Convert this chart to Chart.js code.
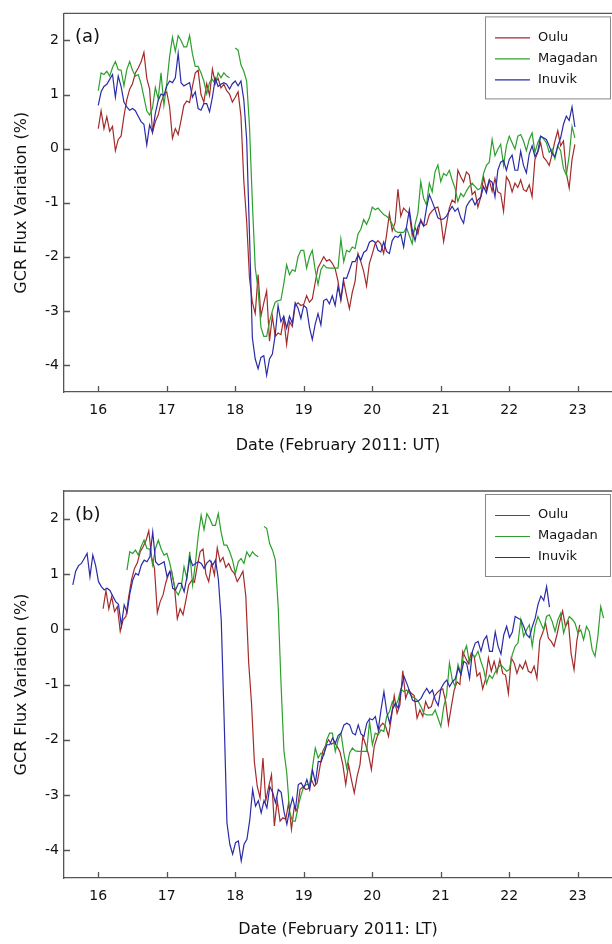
<!DOCTYPE html>
<html lang="en">
<head>
<meta charset="UTF-8" />
<title>GCR Flux Variation</title>
<script src="https://cdn.jsdelivr.net/npm/chart.js"></script>
<style>
    body { margin: 0; background: #fff; }
    canvas { display: block; }
</style>
</head>
<body>
<canvas id="chartUT" width="612" height="472"></canvas>
<canvas id="chartLT" width="612" height="472"></canvas>

<script>
    // hourly GCR flux variation (%), starting 16 Feb 2011 00:00 UT
    const startDay = 16;
    const stations = ['Oulu', 'Magadan', 'Inuvik'];
    const stationColors = ['#a52a2a', '#2ca02c', '#2b2ba8'];
    // local time offset of each station (hours), from its longitude
    const localOffsetHours = [1.70, 10.05, -8.91];

    const oulu = [
        0.37, 0.70, 0.37, 0.59, 0.32, 0.41, -0.04, 0.17, 0.23, 0.60,
        0.90, 1.10, 1.20, 1.40, 1.49, 1.60, 1.78, 1.30, 1.10, 0.30,
        0.50, 0.62, 0.85, 1.00, 1.05, 0.77, 0.19, 0.37, 0.26, 0.52,
        0.80, 0.88, 0.85, 1.15, 1.40, 1.45, 1.00, 0.86, 1.20, 0.98,
        1.47, 1.22, 1.30, 1.12, 1.19, 1.07, 1.01, 0.86, 0.95, 1.05,
        0.60, -0.60, -1.34, -2.40, -2.84, -3.05, -2.33, -3.10, -2.85, -2.63,
        -3.56, -3.10, -3.47, -3.41, -3.44, -3.14, -3.62, -3.20, -3.29, -2.90,
        -2.85, -2.90, -2.88, -2.72, -2.84, -2.78, -2.48, -2.20, -2.10, -2.00,
        -2.08, -2.05, -2.12, -2.22, -2.45, -2.81, -2.45, -2.72, -2.96, -2.66,
        -2.45, -1.94, -2.09, -2.27, -2.54, -2.12, -1.95, -1.76, -1.70, -1.76,
        -1.94, -1.60, -1.20, -1.52, -1.37, -0.75, -1.25, -1.10, -1.16, -1.20,
        -1.61, -1.46, -1.58, -1.31, -1.43, -1.40, -1.22, -1.15, -1.10, -1.08,
        -1.30, -1.72, -1.40, -1.10, -0.95, -1.00, -0.40, -0.52, -0.62, -0.43,
        -0.49, -0.85, -0.79, -1.08, -0.90, -0.52, -0.76, -0.58, -0.79, -0.55,
        -0.80, -0.83, -1.16, -0.52, -0.61, -0.80, -0.64, -0.72, -0.58, -0.76,
        -0.79, -0.67, -0.89, -0.20, -0.07, 0.11, -0.16, -0.22, -0.31, -0.10,
        0.14, 0.33, 0.05, 0.14, -0.45, -0.73, -0.20, 0.08
    ];

    const magadan = [
        1.07, 1.40, 1.37, 1.43, 1.34, 1.50, 1.61, 1.46, 1.45, 1.16,
        1.46, 1.61, 1.45, 1.34, 1.37, 1.20, 0.95, 0.70, 0.62, 0.75,
        1.13, 0.92, 1.40, 0.80, 1.20, 1.70, 2.06, 1.80, 2.09, 2.00,
        1.88, 1.88, 2.09, 1.75, 1.52, 1.52, 1.40, 1.25, 1.01, 1.22,
        1.28, 1.19, 1.40, 1.31, 1.40, 1.34, 1.31, null, 1.86, 1.82,
        1.55, 1.43, 1.25, 0.40, -1.00, -2.20, -2.60, -3.30, -3.47, -3.47,
        -3.20, -3.00, -2.84, -2.81, -2.80, -2.50, -2.15, -2.33, -2.24, -2.27,
        -2.00, -1.88, -1.88, -2.21, -2.00, -1.88, -2.24, -2.51, -2.24, -2.15,
        -2.20, -2.21, -2.21, -2.21, -2.21, -1.67, -2.09, -1.88, -1.91, -1.82,
        -1.85, -1.58, -1.49, -1.31, -1.40, -1.28, -1.08, -1.13, -1.10, -1.16,
        -1.22, -1.25, -1.30, -1.40, -1.52, -1.55, -1.55, -1.55, -1.46, -1.61,
        -1.76, -1.40, -1.19, -0.61, -0.92, -1.04, -0.64, -0.80, -0.43, -0.30,
        -0.61, -0.46, -0.50, -0.40, -0.58, -0.73, -0.98, -0.83, -0.89, -0.78,
        -0.70, -0.64, -0.70, -0.76, -0.73, -0.46, -0.31, -0.25, 0.17, -0.13,
        -0.01, 0.08, -0.31, 0.05, 0.23, 0.11, -0.01, 0.23, 0.26, 0.14,
        -0.04, 0.17, 0.29, -0.07, 0.11, 0.23, 0.18, 0.11, -0.07, -0.01,
        -0.19, 0.05, -0.04, -0.37, -0.49, -0.13, 0.41, 0.20
    ];

    const inuvik = [
        0.80, 1.05, 1.15, 1.19, 1.28, 1.37, 0.95, 1.34, 1.15, 0.86,
        0.77, 0.71, 0.74, 0.70, 0.60, 0.50, 0.45, 0.07, 0.44, 0.30,
        0.65, 0.89, 1.01, 0.98, 1.16, 1.25, 1.22, 1.31, 1.76, 1.22,
        1.16, 1.19, 1.22, 0.95, 1.05, 0.74, 0.71, 0.83, 0.83, 0.68,
        0.95, 1.30, 1.15, 1.19, 1.22, 1.19, 1.10, 1.20, 1.25, 1.16,
        1.25, 0.90, 0.17, -1.60, -3.50, -3.89, -4.07, -3.86, -3.83, -4.19,
        -3.89, -3.80, -3.45, -2.90, -3.20, -3.10, -3.32, -3.10, -3.23, -2.85,
        -2.95, -3.14, -2.90, -2.95, -3.30, -3.53, -3.25, -3.05, -3.26, -2.81,
        -2.78, -2.87, -2.72, -2.90, -2.55, -2.78, -2.39, -2.40, -2.25, -2.09,
        -2.09, -1.97, -2.06, -1.92, -1.88, -1.73, -1.70, -1.73, -1.88, -1.91,
        -1.73, -1.90, -1.94, -1.70, -1.62, -1.64, -1.58, -1.82, -1.45, -1.13,
        -1.50, -1.70, -1.45, -1.34, -1.43, -1.10, -0.85, -0.98, -1.12, -1.28,
        -1.31, -1.30, -1.25, -1.15, -1.07, -1.16, -1.10, -1.28, -1.38, -1.07,
        -0.98, -0.92, -1.04, -0.95, -0.90, -0.70, -0.82, -0.58, -0.62, -0.89,
        -0.40, -0.25, -0.22, -0.40, -0.20, -0.12, -0.40, -0.40, -0.05, -0.31,
        -0.45, -0.10, 0.05, -0.15, -0.05, 0.23, 0.20, 0.17, 0.05, -0.10,
        -0.15, 0.05, 0.20, 0.45, 0.60, 0.52, 0.77, 0.40
    ];

    const xTicks = [16, 17, 18, 19, 20, 21, 22, 23];
    const yTicks = [-4, -3, -2, -1, 0, 1, 2];

    const FONT = 'DejaVu Sans';
    const AXIS = '#555';

    // top border, inward ticks, panel letter and boxed legend
    const framePlugin = {
        id: 'frame',
        afterDatasetsDraw(chart, args, opts) {
            const {ctx, chartArea: a, scales} = chart;
            ctx.save();
            ctx.strokeStyle = AXIS;
            ctx.lineWidth = 1.3;
            ctx.beginPath();
            ctx.moveTo(a.left, a.top);
            ctx.lineTo(a.right, a.top);
            scales.x.ticks.forEach(t => {
                const px = Math.round(scales.x.getPixelForValue(t.value)) + 0.5;
                ctx.moveTo(px, a.bottom);
                ctx.lineTo(px, a.bottom - 6);
            });
            scales.y.ticks.forEach(t => {
                const py = Math.round(scales.y.getPixelForValue(t.value)) + 0.5;
                ctx.moveTo(a.left, py);
                ctx.lineTo(a.left + 6, py);
            });
            ctx.stroke();

            ctx.fillStyle = '#111';
            ctx.font = '18px "' + FONT + '"';
            ctx.textBaseline = 'middle';
            ctx.textAlign = 'left';
            ctx.fillText(opts.label, a.left + 11, a.top + 24);

            // legend box
            const bx = a.right - 127, by = a.top + 3, bw = 125, bh = 82;
            ctx.fillStyle = '#fff';
            ctx.fillRect(bx, by, bw, bh);
            ctx.strokeStyle = '#888';
            ctx.lineWidth = 1;
            ctx.strokeRect(bx + 0.5, by + 0.5, bw, bh);
            ctx.font = '13px "' + FONT + '"';
            chart.data.datasets.forEach((ds, i) => {
                const ly = by + 21 + i * 21;
                ctx.strokeStyle = ds.borderColor;
                ctx.lineWidth = 1.2;
                ctx.beginPath();
                ctx.moveTo(bx + 10, ly + 0.5);
                ctx.lineTo(bx + 45, ly + 0.5);
                ctx.stroke();
                ctx.fillStyle = '#111';
                ctx.fillText(ds.label, bx + 53, ly);
            });
            ctx.restore();
        }
    };

    function points(values, shiftHours) {
        return values.map((v, i) => ({ x: startDay + (i + shiftHours) / 24, y: v }));
    }

    function makeChart(id, panel, xTitle, local, padTop, xAxisHeight, titlePad) {
        const series = [oulu, magadan, inuvik];
        return new Chart(document.getElementById(id), {
            type: 'line',
            data: {
                datasets: series.map((vals, i) => ({
                    label: stations[i],
                    data: points(vals, local ? localOffsetHours[i] : 0),
                    borderColor: stationColors[i],
                    borderWidth: 1.2,
                    pointRadius: 0,
                    fill: false,
                    spanGaps: false,
                    order: 2 - i
                }))
            },
            options: {
                responsive: false,
                animation: false,
                devicePixelRatio: 1,
                layout: { padding: { top: padTop, right: 0, left: 0, bottom: 0 } },
                plugins: {
                    legend: { display: false },
                    tooltip: { enabled: false },
                    frame: { label: panel }
                },
                scales: {
                    x: {
                        type: 'linear',
                        min: 15.5,
                        max: 23.5,
                        afterBuildTicks: s => { s.ticks = xTicks.map(v => ({ value: v })); },
                        afterFit: s => { s.height = xAxisHeight; },
                        grid: { display: false, drawTicks: false },
                        border: { display: true, color: AXIS, width: 1.3 },
                        ticks: { padding: 10, color: '#111', font: { family: FONT, size: 14 } },
                        title: {
                            display: true, text: xTitle, color: '#111',
                            font: { family: FONT, size: 16 },
                            padding: { top: 0, bottom: titlePad }
                        }
                    },
                    y: {
                        min: -4.5,
                        max: 2.5,
                        afterBuildTicks: s => { s.ticks = yTicks.map(v => ({ value: v })); },
                        afterFit: s => { s.width = 64; },
                        grid: { display: false, drawTicks: false },
                        border: { display: true, color: AXIS, width: 1.3 },
                        ticks: { padding: 5, color: '#111', font: { family: FONT, size: 14 } },
                        title: {
                            display: true, text: 'GCR Flux Variation (%)', color: '#111',
                            font: { family: FONT, size: 16 },
                            padding: { top: 12, bottom: 0 }
                        }
                    }
                }
            },
            plugins: [framePlugin]
        });
    }

    makeChart('chartUT', '(a)', 'Date (February 2011: UT)', false, 4, 80, 16.4);
    makeChart('chartLT', '(b)', 'Date (February 2011: LT)', true, 19, 66, 4.4);
</script>
</body>
</html>
